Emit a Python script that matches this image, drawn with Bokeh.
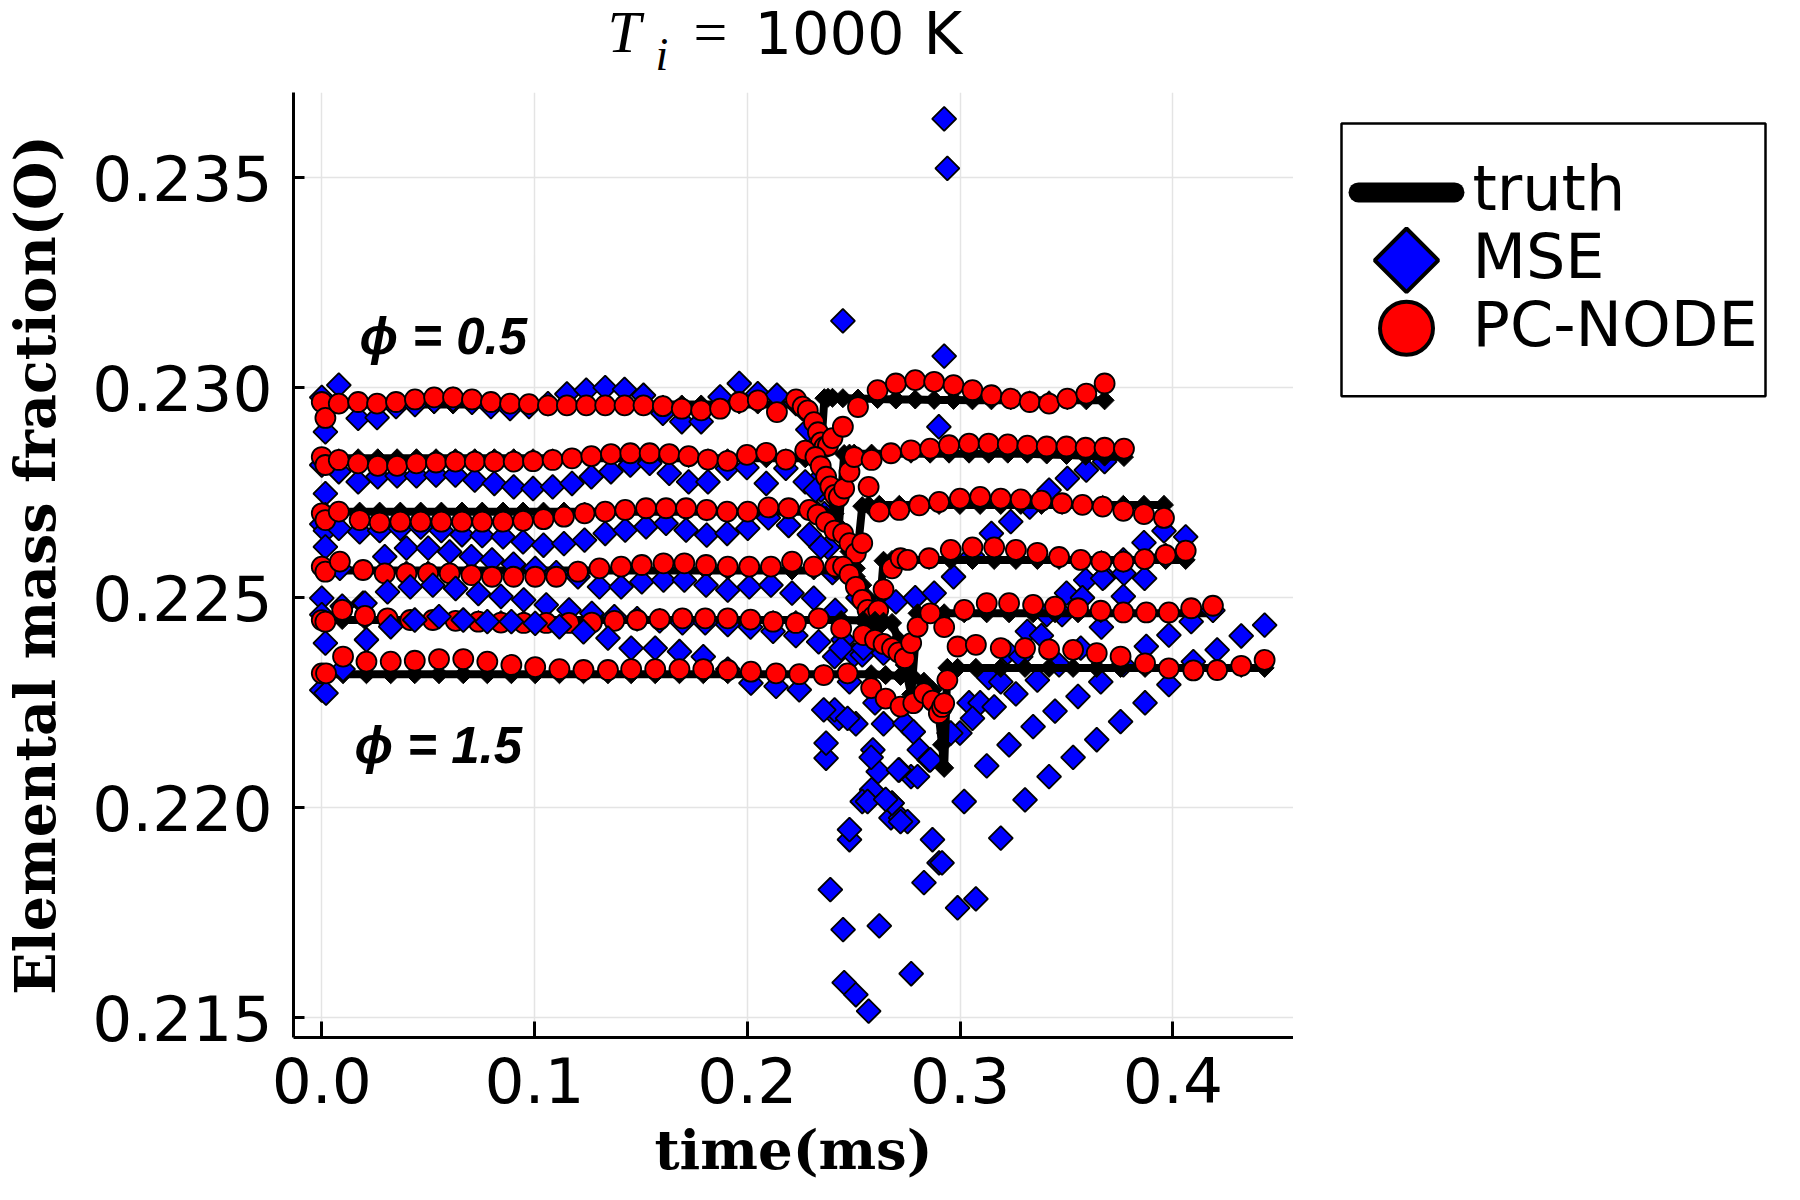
import math
from bokeh.plotting import figure
from bokeh.layouts import column, row
from bokeh.models import Range1d, FixedTicker, PrintfTickFormatter, Label
from bokeh.core.properties import value
from bokeh.embed import file_html
from bokeh.resources import INLINE

# ---------------- data ----------------
x_ticks = [0.0, 0.1, 0.2, 0.3, 0.4]
y_ticks = [0.215, 0.220, 0.225, 0.230, 0.235]
series_labels = ["truth", "MSE", "PC-NODE"]
phi_labels = ["ϕ = 0.5", "ϕ = 1.5"]
x_label = "time(ms)"
y_label = "Elemental mass fraction(O)"

# phi = 0.5
t_phi05 = [0.0, 0.0017, 0.0080, 0.0171, 0.0260, 0.0349, 0.0438, 0.0528, 0.0617, 0.0706, 0.0795, 0.0885, 0.0974,
           0.1063, 0.1152, 0.1243, 0.1332, 0.1423, 0.1512, 0.1603, 0.1692, 0.1783, 0.1872, 0.1962, 0.2049, 0.2139,
           0.2229, 0.2260, 0.2284, 0.2313, 0.2332, 0.2346, 0.2362, 0.2379, 0.2400, 0.2449, 0.2520, 0.2612, 0.2698,
           0.2789, 0.2878, 0.2969, 0.3058, 0.3147, 0.3238, 0.3327, 0.3418, 0.3504, 0.3593, 0.3679]
truth_phi05 = [0.2296, 0.2296, 0.2296, 0.2296, 0.2296, 0.2296, 0.2296, 0.2296, 0.2296, 0.2296, 0.2296, 0.2296, 0.2296,
               0.2296, 0.2296, 0.2296, 0.2296, 0.2296, 0.2296, 0.2296, 0.2296, 0.2296, 0.2296, 0.2296, 0.2296, 0.2296,
               0.2296, 0.22958, 0.22950, 0.22920, 0.22890, 0.22850, 0.22975, 0.22976, 0.22976, 0.22975, 0.22974,
               0.22973, 0.22972, 0.22972, 0.22971, 0.22971, 0.2297, 0.2297, 0.2297, 0.2297, 0.2297, 0.2297, 0.2297,
               0.2297]
pcnode_phi05 = [0.22966, 0.22928, 0.22962, 0.22966, 0.22962, 0.22966, 0.22972, 0.22977, 0.22977, 0.22972, 0.22966,
                0.22962, 0.22961, 0.22958, 0.22958, 0.22958, 0.22958, 0.22958, 0.22958, 0.22956, 0.22950, 0.22946,
                0.22950, 0.22966, 0.22970, 0.22942, 0.22972, 0.22955, 0.22946, 0.22918, 0.22894, 0.22870, 0.22859,
                0.22862, 0.22880, 0.22907, 0.22954, 0.22994, 0.23010, 0.23018, 0.23014, 0.23006, 0.22994, 0.22982,
                0.22974, 0.22966, 0.22962, 0.22974, 0.22986, 0.23010]
mse_phi05 = [0.22977, 0.22895, 0.23006, 0.22927, 0.22929, 0.22955, 0.22960, 0.22968, 0.22972, 0.22965, 0.22955,
             0.22950, 0.22955, 0.22962, 0.22985, 0.22994, 0.23000, 0.22996, 0.22982, 0.22939, 0.22919, 0.22919,
             0.22978, 0.23010, 0.22986, 0.22982, 0.22962, 0.22950, 0.22900, 0.22850, 0.22780, 0.22756, 0.22700,
             0.22620, 0.22560, 0.23159, 0.22500, 0.22480, 0.22490, 0.22500, 0.22511, 0.22550, 0.22600, 0.22653,
             0.22681, 0.22716, 0.22756, 0.22784, 0.22804, 0.22824]

# phi = 0.7
t_phi07 = [0.0, 0.0017, 0.0080, 0.0171, 0.0263, 0.0354, 0.0445, 0.0537, 0.0628, 0.0719, 0.0811, 0.0902, 0.0993,
           0.1085, 0.1176, 0.1267, 0.1359, 0.1450, 0.1541, 0.1633, 0.1724, 0.1815, 0.1907, 0.1998, 0.2089, 0.2181,
           0.2272, 0.2320, 0.2345, 0.2370, 0.2390, 0.2410, 0.2430, 0.2455, 0.2480, 0.2502, 0.2584, 0.2675, 0.2769,
           0.2859, 0.2948, 0.3042, 0.3134, 0.3224, 0.3316, 0.3407, 0.3500, 0.3590, 0.3679, 0.3770]
truth_phi07 = [0.22832, 0.22832, 0.22832, 0.22832, 0.22832, 0.22832, 0.22832, 0.22832, 0.22832, 0.22832, 0.22832,
               0.22832, 0.22832, 0.22832, 0.22832, 0.22832, 0.22832, 0.22832, 0.22832, 0.22832, 0.22832, 0.22832,
               0.22832, 0.22832, 0.22832, 0.22832, 0.22832, 0.22830, 0.22820, 0.22790, 0.22750, 0.22700, 0.22670,
               0.22842, 0.22843, 0.22843, 0.22843, 0.22843, 0.22843, 0.22843, 0.22843, 0.22843, 0.22843, 0.22843,
               0.22843, 0.22841, 0.22840, 0.22838, 0.22836, 0.22835]
pcnode_phi07 = [0.22835, 0.22816, 0.22828, 0.22820, 0.22814, 0.22814, 0.22820, 0.22822, 0.22824, 0.22824, 0.22824,
                0.22824, 0.22825, 0.22828, 0.22832, 0.22837, 0.22842, 0.22844, 0.22844, 0.22842, 0.22837, 0.22829,
                0.22826, 0.22840, 0.22845, 0.22829, 0.22850, 0.22835, 0.22813, 0.22788, 0.22765, 0.22745, 0.22740,
                0.22760, 0.22800, 0.22835, 0.22828, 0.22844, 0.22851, 0.22855, 0.22863, 0.22867, 0.22867, 0.22865,
                0.22862, 0.22860, 0.22860, 0.22857, 0.22857, 0.22855]
mse_phi07 = [0.22816, 0.22748, 0.22800, 0.22776, 0.22788, 0.22790, 0.22790, 0.22792, 0.22792, 0.22780, 0.22772,
             0.22764, 0.22760, 0.22764, 0.22772, 0.22788, 0.22800, 0.22816, 0.22820, 0.22796, 0.22776, 0.22776,
             0.22808, 0.22810, 0.22772, 0.22808, 0.22776, 0.22756, 0.22621, 0.22118, 0.21805, 0.22360, 0.22213,
             0.21584, 0.21924, 0.22364, 0.22043, 0.21976, 0.22074, 0.22114, 0.22178, 0.22250, 0.22310, 0.22370,
             0.22420, 0.22460, 0.22511, 0.22542, 0.22550, 0.22558]

# phi = 0.9
t_phi09 = [0.0, 0.0017, 0.0080, 0.0178, 0.0272, 0.0369, 0.0465, 0.0562, 0.0659, 0.0754, 0.0852, 0.0946, 0.1042,
           0.1138, 0.1235, 0.1332, 0.1426, 0.1524, 0.1618, 0.1712, 0.1809, 0.1905, 0.2002, 0.2099, 0.2194, 0.2291,
           0.2330, 0.2370, 0.2410, 0.2450, 0.2480, 0.2510, 0.2540, 0.2570, 0.2620, 0.2714, 0.2808, 0.2901, 0.2999,
           0.3094, 0.3191, 0.3285, 0.3382, 0.3479, 0.3575, 0.3670, 0.3767, 0.3864, 0.3958]
truth_phi09 = [0.22705, 0.22705, 0.22705, 0.22705, 0.22705, 0.22705, 0.22705, 0.22705, 0.22705, 0.22705, 0.22705,
               0.22705, 0.22705, 0.22705, 0.22705, 0.22705, 0.22705, 0.22705, 0.22705, 0.22705, 0.22705, 0.22705,
               0.22705, 0.22705, 0.22705, 0.22705, 0.22703, 0.22695, 0.22680, 0.22650, 0.22610, 0.22570, 0.22718,
               0.22720, 0.22721, 0.22721, 0.22721, 0.22721, 0.22721, 0.22721, 0.22721, 0.22721, 0.22721, 0.22721,
               0.22721, 0.22721, 0.22721, 0.22721, 0.22721]
pcnode_phi09 = [0.22701, 0.22685, 0.22705, 0.22685, 0.22679, 0.22681, 0.22681, 0.22681, 0.22681, 0.22681, 0.22681,
                0.22683, 0.22687, 0.22693, 0.22701, 0.22705, 0.22709, 0.22713, 0.22713, 0.22713, 0.22709, 0.22705,
                0.22705, 0.22715, 0.22713, 0.22709, 0.22698, 0.22680, 0.22660, 0.22653, 0.22630, 0.22606, 0.22630,
                0.22764, 0.22705, 0.22709, 0.22720, 0.22728, 0.22736, 0.22740, 0.22736, 0.22734, 0.22731, 0.22725,
                0.22721, 0.22717, 0.22707, 0.22699, 0.22690]
mse_phi09 = [0.22675, 0.22660, 0.22665, 0.22657, 0.22660, 0.22665, 0.22668, 0.22660, 0.22650, 0.22648, 0.22645,
             0.22633, 0.22625, 0.22629, 0.22637, 0.22653, 0.22661, 0.22669, 0.22677, 0.22661, 0.22649, 0.22653,
             0.22665, 0.22690, 0.22672, 0.22650, 0.22700, 0.22154, 0.22233, 0.21710, 0.21948, 0.21555, 0.22015,
             0.21516, 0.21719, 0.22090, 0.22138, 0.21869, 0.22178, 0.22250, 0.22300, 0.22360, 0.22410, 0.22460,
             0.22500, 0.22546, 0.22590, 0.22631, 0.22659]

# phi = 1.1
t_phi11 = [0.0, 0.0017, 0.0085, 0.0194, 0.0296, 0.0398, 0.0500, 0.0601, 0.0703, 0.0800, 0.0901, 0.1003, 0.1102,
           0.1204, 0.1305, 0.1407, 0.1504, 0.1606, 0.1704, 0.1806, 0.1908, 0.2009, 0.2111, 0.2210, 0.2312, 0.2413,
           0.2450, 0.2480, 0.2510, 0.2540, 0.2565, 0.2590, 0.2615, 0.2640, 0.2680, 0.2720, 0.2753, 0.2854, 0.2956,
           0.3058, 0.3160, 0.3262, 0.3363, 0.3465, 0.3567, 0.3664, 0.3767, 0.3867, 0.3966, 0.4060]
truth_phi11 = [0.22565, 0.22565, 0.22565, 0.22565, 0.22565, 0.22565, 0.22565, 0.22565, 0.22565, 0.22565, 0.22565,
               0.22565, 0.22565, 0.22565, 0.22565, 0.22565, 0.22565, 0.22565, 0.22565, 0.22565, 0.22565, 0.22565,
               0.22565, 0.22565, 0.22565, 0.22565, 0.22563, 0.22560, 0.22550, 0.22530, 0.22500, 0.22460, 0.22430,
               0.22588, 0.22590, 0.22590, 0.22590, 0.22590, 0.22590, 0.22590, 0.22590, 0.22590, 0.22590, 0.22590,
               0.22590, 0.22590, 0.22590, 0.22590, 0.22590, 0.22590]
pcnode_phi11 = [0.22574, 0.22562, 0.22586, 0.22566, 0.22558, 0.22558, 0.22558, 0.22558, 0.22554, 0.22550, 0.22550,
                0.22550, 0.22550, 0.22562, 0.22570, 0.22574, 0.22578, 0.22582, 0.22582, 0.22578, 0.22574, 0.22574,
                0.22574, 0.22586, 0.22574, 0.22574, 0.22574, 0.22555, 0.22526, 0.22495, 0.22471, 0.22455, 0.22470,
                0.22520, 0.22570, 0.22594, 0.22590, 0.22594, 0.22614, 0.22620, 0.22620, 0.22614, 0.22607, 0.22597,
                0.22590, 0.22586, 0.22586, 0.22592, 0.22602, 0.22612]
mse_phi11 = [0.22499, 0.22621, 0.22570, 0.22487, 0.22598, 0.22618, 0.22618, 0.22609, 0.22598, 0.22590, 0.22580,
             0.22570, 0.22560, 0.22550, 0.22526, 0.22526, 0.22538, 0.22542, 0.22542, 0.22530, 0.22518, 0.22526,
             0.22530, 0.22511, 0.22499, 0.22470, 0.22400, 0.22300, 0.22200, 0.22364, 0.22015, 0.22138, 0.22086,
             0.22368, 0.22011, 0.21976, 0.21967, 0.22114, 0.22178, 0.22213, 0.22240, 0.22271, 0.22304, 0.22340,
             0.22380, 0.22430, 0.22503, 0.22546, 0.22600, 0.22645]

# phi = 1.3
t_phi13 = [0.0, 0.0017, 0.0096, 0.0203, 0.0309, 0.0416, 0.0522, 0.0629, 0.0736, 0.0842, 0.0949, 0.1055, 0.1162,
           0.1269, 0.1375, 0.1482, 0.1588, 0.1695, 0.1802, 0.1908, 0.2015, 0.2121, 0.2228, 0.2335, 0.2441, 0.2545,
           0.2600, 0.2640, 0.2680, 0.2710, 0.2740, 0.2770, 0.2800, 0.2860, 0.2925, 0.3019, 0.3125, 0.3230, 0.3343,
           0.3446, 0.3554, 0.3661, 0.3767, 0.3875, 0.3981, 0.4086, 0.4188]
truth_phi13 = [0.22447, 0.22447, 0.22447, 0.22447, 0.22447, 0.22447, 0.22447, 0.22447, 0.22447, 0.22447, 0.22447,
               0.22447, 0.22447, 0.22447, 0.22447, 0.22447, 0.22447, 0.22447, 0.22447, 0.22447, 0.22447, 0.22447,
               0.22447, 0.22447, 0.22447, 0.22446, 0.22445, 0.22443, 0.22440, 0.22400, 0.22340, 0.22270, 0.22463,
               0.22463, 0.22463, 0.22463, 0.22463, 0.22463, 0.22463, 0.22463, 0.22463, 0.22463, 0.22463, 0.22463,
               0.22463, 0.22463, 0.22463]
pcnode_phi13 = [0.22447, 0.22443, 0.22471, 0.22457, 0.22451, 0.22447, 0.22447, 0.22445, 0.22443, 0.22441, 0.22440,
                0.22440, 0.22440, 0.22441, 0.22445, 0.22447, 0.22449, 0.22451, 0.22451, 0.22451, 0.22448, 0.22443,
                0.22440, 0.22451, 0.22427, 0.22411, 0.22400, 0.22390, 0.22380, 0.22370, 0.22356, 0.22392, 0.22431,
                0.22463, 0.22430, 0.22471, 0.22487, 0.22487, 0.22483, 0.22479, 0.22475, 0.22469, 0.22465, 0.22465,
                0.22465, 0.22475, 0.22481]
mse_phi13 = [0.22460, 0.22392, 0.22480, 0.22487, 0.22514, 0.22526, 0.22530, 0.22522, 0.22510, 0.22503, 0.22495,
             0.22483, 0.22471, 0.22463, 0.22455, 0.22450, 0.22445, 0.22440, 0.22440, 0.22436, 0.22430, 0.22420,
             0.22410, 0.22395, 0.22380, 0.22380, 0.22250, 0.22200, 0.22011, 0.22090, 0.22201, 0.21605, 0.22074,
             0.22114, 0.23075, 0.22015, 0.22100, 0.22150, 0.22193, 0.22230, 0.22265, 0.22300, 0.22340, 0.22384,
             0.22411, 0.22443, 0.22470]

# phi = 1.5
t_phi15 = [0.0, 0.0020, 0.0100, 0.0210, 0.0324, 0.0437, 0.0551, 0.0665, 0.0778, 0.0891, 0.1003, 0.1117, 0.1230,
           0.1345, 0.1454, 0.1567, 0.1681, 0.1793, 0.1908, 0.2017, 0.2135, 0.2244, 0.2359, 0.2471, 0.2582, 0.2650,
           0.2720, 0.2780, 0.2830, 0.2870, 0.2900, 0.2915, 0.2925, 0.2940, 0.2988, 0.3074, 0.3191, 0.3305, 0.3418,
           0.3531, 0.3642, 0.3754, 0.3869, 0.3981, 0.4096, 0.4208, 0.4321, 0.4431]
truth_phi15 = [0.22318, 0.22318, 0.22318, 0.22318, 0.22318, 0.22318, 0.22318, 0.22318, 0.22318, 0.22318, 0.22318,
               0.22318, 0.22318, 0.22318, 0.22318, 0.22318, 0.22318, 0.22318, 0.22318, 0.22318, 0.22318, 0.22318,
               0.22318, 0.22318, 0.22318, 0.22316, 0.22314, 0.22310, 0.22300, 0.22280, 0.22220, 0.22150, 0.22095,
               0.22333, 0.22333, 0.22333, 0.22333, 0.22333, 0.22333, 0.22333, 0.22333, 0.22333, 0.22333, 0.22333,
               0.22333, 0.22333, 0.22333, 0.22333]
pcnode_phi15 = [0.22320, 0.22320, 0.22360, 0.22348, 0.22348, 0.22350, 0.22354, 0.22354, 0.22348, 0.22340, 0.22335,
                0.22330, 0.22328, 0.22328, 0.22330, 0.22330, 0.22330, 0.22330, 0.22328, 0.22324, 0.22320, 0.22318,
                0.22316, 0.22320, 0.22285, 0.22260, 0.22241, 0.22249, 0.22273, 0.22255, 0.22225, 0.22240, 0.22249,
                0.22304, 0.22384, 0.22388, 0.22380, 0.22380, 0.22377, 0.22376, 0.22368, 0.22360, 0.22344, 0.22332,
                0.22327, 0.22328, 0.22338, 0.22352]
mse_phi15 = [0.22280, 0.22273, 0.22330, 0.22400, 0.22431, 0.22447, 0.22455, 0.22447, 0.22443, 0.22443, 0.22439,
             0.22431, 0.22419, 0.22404, 0.22380, 0.22380, 0.22372, 0.22360, 0.22330, 0.22297, 0.22289, 0.22281,
             0.22233, 0.22213, 0.22120, 0.22020, 0.21967, 0.22181, 0.21822, 0.21924, 0.22907, 0.21869, 0.23640,
             0.23522, 0.21762, 0.21783, 0.21928, 0.22019, 0.22074, 0.22120, 0.22162, 0.22205, 0.22250, 0.22293,
             0.22348, 0.22376, 0.22409, 0.22435]

cases = [
    (t_phi05, truth_phi05, mse_phi05, pcnode_phi05),
    (t_phi07, truth_phi07, mse_phi07, pcnode_phi07),
    (t_phi09, truth_phi09, mse_phi09, pcnode_phi09),
    (t_phi11, truth_phi11, mse_phi11, pcnode_phi11),
    (t_phi13, truth_phi13, mse_phi13, pcnode_phi13),
    (t_phi15, truth_phi15, mse_phi15, pcnode_phi15),
]

SQ = math.pi / 4


def blank(fig):
    fig.outline_line_color = None
    fig.grid.visible = False
    fig.background_fill_color = "white"
    fig.border_fill_color = "white"


# ---------------- title strip ----------------
pt = figure(width=1784, height=92, output_backend="svg", toolbar_location=None,
            x_range=Range1d(0, 1), y_range=Range1d(0, 1), x_axis_type=None, y_axis_type=None,
            min_border=0)
blank(pt)
pt.add_layout(Label(x=607, y=61, x_units="screen", y_units="screen", text="T",
                    text_font="Liberation Serif", text_font_style="italic", text_font_size="60px",
                    text_baseline="middle", text_align="left", text_color="black"))
pt.add_layout(Label(x=655, y=38, x_units="screen", y_units="screen", text="i",
                    text_font="Liberation Serif", text_font_style="italic", text_font_size="46px",
                    text_baseline="middle", text_align="left", text_color="black"))
pt.add_layout(Label(x=693, y=61, x_units="screen", y_units="screen", text="=",
                    text_font="Liberation Serif", text_font_size="60px",
                    text_baseline="middle", text_align="left", text_color="black"))
pt.add_layout(Label(x=754, y=59, x_units="screen", y_units="screen", text="1000 K",
                    text_font="DejaVu Sans", text_font_size="59px",
                    text_baseline="middle", text_align="left", text_color="black"))

# ---------------- main plot ----------------
p = figure(width=1293, height=1092, output_backend="svg", toolbar_location=None,
           x_range=Range1d(-0.01329, 0.45667), y_range=Range1d(0.214532, 0.237027),
           min_border_left=292, min_border_right=0, min_border_top=0, min_border_bottom=146)
p.outline_line_color = None
p.background_fill_color = "white"
p.border_fill_color = "white"

p.xaxis.ticker = FixedTicker(ticks=x_ticks)
p.yaxis.ticker = FixedTicker(ticks=y_ticks)
p.xgrid.ticker = FixedTicker(ticks=x_ticks)
p.ygrid.ticker = FixedTicker(ticks=y_ticks)
p.xaxis.formatter = PrintfTickFormatter(format="%.1f")
p.yaxis.formatter = PrintfTickFormatter(format="%.3f")
for ax in (p.xaxis[0], p.yaxis[0]):
    ax.axis_line_width = 3
    ax.axis_line_color = "black"
    ax.major_tick_line_width = 3
    ax.major_tick_line_color = "black"
    ax.major_tick_out = 0
    ax.minor_tick_line_color = None
    ax.major_label_text_font = "DejaVu Sans"
    ax.major_label_text_font_size = "63px"
    ax.major_label_text_color = "black"
    ax.axis_label_text_font = "DejaVu Serif"
    ax.axis_label_text_font_style = "bold"
    ax.axis_label_text_color = "black"
p.xaxis[0].axis_label_text_font_size = "54.5px"
p.yaxis[0].axis_label_text_font_size = "55.5px"
p.xaxis[0].major_tick_in = 16
p.yaxis[0].major_tick_in = 11
p.xaxis[0].major_label_standoff = 19
p.yaxis[0].major_label_standoff = 21
p.xaxis[0].axis_label = x_label
p.yaxis[0].axis_label = y_label
p.xaxis[0].axis_label_standoff = 12
p.yaxis[0].axis_label_standoff = 21
p.grid.grid_line_color = "#e4e4e4"
p.grid.grid_line_width = 1.5

for t, tr, ms, pc in cases:
    p.line(t, tr, line_color="black", line_width=8, line_join="round")
    p.scatter(t, tr, marker="square", angle=SQ, size=13.5, fill_color="black", line_color="black", line_width=1)
    p.scatter(t, ms, marker="square", angle=SQ, size=17, fill_color="#0000ff", line_color="black", line_width=1.8)
    p.scatter(t, pc, marker="circle", size=20, fill_color="#ff0000", line_color="black", line_width=1.8)

p.add_layout(Label(x=66, y=701, x_units="screen", y_units="screen", text=phi_labels[0],
                   text_font="Liberation Sans", text_font_style="bold italic", text_font_size="51px",
                   text_baseline="middle", text_align="left", text_color="black"))
p.add_layout(Label(x=61, y=292, x_units="screen", y_units="screen", text=phi_labels[1],
                   text_font="Liberation Sans", text_font_style="bold italic", text_font_size="51px",
                   text_baseline="middle", text_align="left", text_color="black"))

# ---------------- legend panel (page pixel coordinates, y downward; frame aligned with the plot frame) ----------
pl = figure(width=491, height=1092, output_backend="svg", toolbar_location=None,
            x_range=Range1d(1293, 1784), y_range=Range1d(1038, 92), x_axis_type=None, y_axis_type=None,
            min_border=0, min_border_bottom=146)
blank(pl)
pl.quad(left=[1341], right=[1765], top=[123], bottom=[396], fill_color="white",
        line_color="black", line_width=2.5)
pl.line([1358, 1454], [192, 192], line_color="black", line_width=20, line_cap="round")
pl.scatter([1406], [260], marker="square", angle=SQ, size=45, fill_color="#0000ff",
           line_color="black", line_width=4)
pl.scatter([1406], [328], marker="circle", size=53, fill_color="#ff0000",
           line_color="black", line_width=4)
pl.text(x=[1472, 1472, 1472], y=[188.5, 256.5, 324.5], text=series_labels,
        text_font=value("DejaVu Sans"), text_font_size=value("62px"), text_color="black",
        text_baseline="middle", text_align="left")

layout = column(pt, row(p, pl, spacing=0), spacing=0)
open("out.html", "w").write(file_html(layout, INLINE))
